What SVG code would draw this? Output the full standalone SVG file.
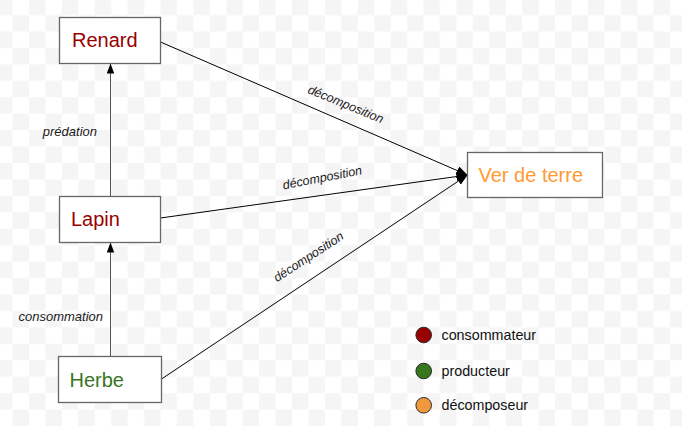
<svg xmlns="http://www.w3.org/2000/svg" width="682" height="426" viewBox="0 0 682 426">
<style>
  .box{fill:#fff;stroke:#666;stroke-width:1.3}
  .nt{font-family:"Liberation Sans",Arial,sans-serif;font-size:20px}
  .el{font-family:"Liberation Sans",Arial,sans-serif;font-style:italic;fill:#1a1a1a}
  .edge{fill:none;stroke:#000;stroke-width:1}
  .vedge{fill:none;stroke:#555;stroke-width:1}
  .lg{font-family:"Liberation Sans",Arial,sans-serif;font-size:14.3px;fill:#111}
  .dot{stroke:#2a2a2a;stroke-width:1}
</style>
<defs>
  <pattern id="chk" x="-3.9" y="-1.4" width="32.88" height="32.88" patternUnits="userSpaceOnUse">
    <rect width="32.88" height="32.88" fill="#fff"/>
    <rect width="16.44" height="16.44" fill="#f5f5f5"/>
    <rect x="16.44" y="16.44" width="16.44" height="16.44" fill="#f5f5f5"/>
  </pattern>
  <marker id="arr" markerUnits="userSpaceOnUse" markerWidth="12" markerHeight="10" refX="11" refY="4.5" orient="auto">
    <path d="M0,0 L11,4.5 L0,9 Z" fill="#000"/>
  </marker>
  <marker id="arrs" markerUnits="userSpaceOnUse" markerWidth="11" markerHeight="9" refX="10" refY="3.75" orient="auto">
    <path d="M0,0 L10,3.75 L0,7.5 Z" fill="#000"/>
  </marker>
</defs>
<rect width="682" height="426" fill="url(#chk)"/>

<g id="connectors">
  <line class="vedge" x1="110.5" y1="196" x2="110.5" y2="63.5" marker-end="url(#arrs)"/>
  <line class="vedge" x1="110.5" y1="356.5" x2="110.5" y2="242.5" marker-end="url(#arrs)"/>
  <line class="edge" x1="160.5" y1="42" x2="467.5" y2="175" marker-end="url(#arr)"/>
  <line class="edge" x1="160.5" y1="218" x2="467.5" y2="175" marker-end="url(#arr)"/>
  <line class="edge" x1="161.5" y1="379" x2="467.5" y2="175" marker-end="url(#arr)"/>
  <text class="el" font-size="13" x="97" y="136" text-anchor="end">prédation</text>
  <text class="el" font-size="13" x="103" y="321" text-anchor="end">consommation</text>
  <text class="el" font-size="12.5" text-anchor="middle" transform="translate(345.4,105) rotate(22.5)" y="3.3">décomposition</text>
  <text class="el" font-size="12.5" text-anchor="middle" transform="translate(322.5,178.5) rotate(-11)" y="3.3">décomposition</text>
  <text class="el" font-size="12.5" text-anchor="middle" transform="translate(309,257.5) rotate(-33)" y="3.3">décomposition</text>
</g>

<g id="renard">
  <rect class="box" x="59.5" y="17.5" width="101" height="46"/>
  <text class="nt" x="72" y="47.3" fill="#990000">Renard</text>
</g>
<g id="lapin">
  <rect class="box" x="59.5" y="196.5" width="101" height="46"/>
  <text class="nt" x="71" y="226" fill="#990000">Lapin</text>
</g>
<g id="herbe">
  <rect class="box" x="58.5" y="356.5" width="103" height="46"/>
  <text class="nt" x="69.5" y="387" fill="#38761d">Herbe</text>
</g>
<g id="ver-de-terre">
  <rect class="box" x="467.5" y="152.5" width="135" height="45"/>
  <text class="nt" x="478.5" y="181.7" fill="#ff9933">Ver de terre</text>
</g>

<g id="legend">
  <circle class="dot" cx="423.7" cy="335" r="7.8" fill="#990000"/>
  <text class="lg" x="441.5" y="339.5">consommateur</text>
  <circle class="dot" cx="423.7" cy="371" r="7.8" fill="#38761d"/>
  <text class="lg" x="441.5" y="375.5">producteur</text>
  <circle class="dot" cx="423.7" cy="405.3" r="7.8" fill="#f0993c"/>
  <text class="lg" x="441.5" y="410">décomposeur</text>
</g>
</svg>
